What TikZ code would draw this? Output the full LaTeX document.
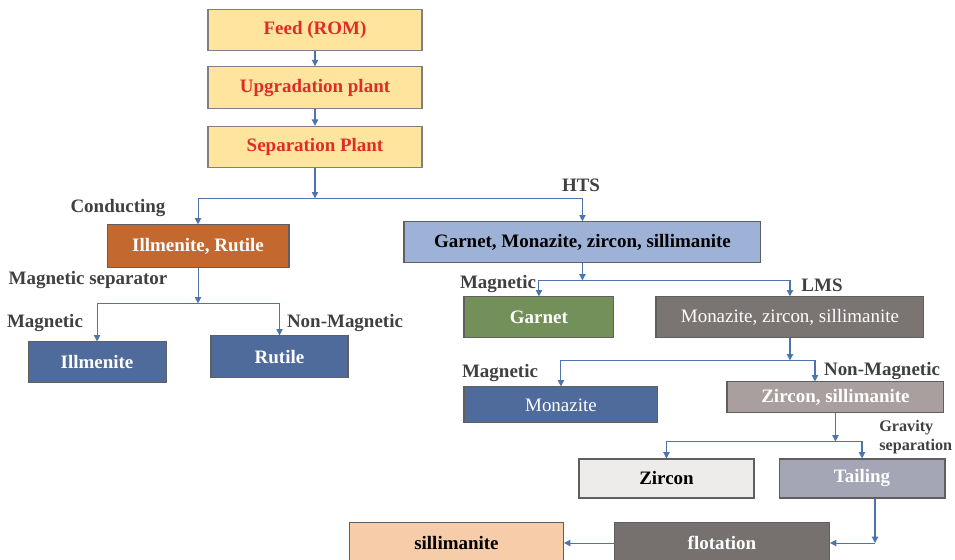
\documentclass[tikz,border=0pt]{standalone}
\usepackage{fontspec}
\setmainfont{Liberation Serif}
\usepackage{tikz}
\usetikzlibrary{arrows.meta,positioning}

\definecolor{feedfill}{HTML}{FFE49E}
\definecolor{feedred}{HTML}{E02B27}
\definecolor{edgegray}{HTML}{5F5F5F}
\definecolor{rustfill}{HTML}{C3692F}
\definecolor{skyfill}{HTML}{9DB2D6}
\definecolor{navyfill}{HTML}{4F6B9B}
\definecolor{olivefill}{HTML}{74905A}
\definecolor{taupefill}{HTML}{7A7472}
\definecolor{mauvefill}{HTML}{A99F9E}
\definecolor{palefill}{HTML}{EEEBEB}
\definecolor{slatefill}{HTML}{A4A5B5}
\definecolor{flotfill}{HTML}{76716F}
\definecolor{peachfill}{HTML}{F7CDA9}
\definecolor{flowblue}{HTML}{4E74AE}
\definecolor{lblgray}{HTML}{404040}

\newcommand{\chartfont}{\fontsize{10.8}{13}\selectfont}
\newcommand{\smallchartfont}{\fontsize{9.2}{10.8}\selectfont}

\begin{document}
\begin{tikzpicture}[
    x=0.02cm, y=-0.02cm,
    box/.style={
      rectangle, draw=edgegray, line width=0.6pt,
      inner sep=0pt, align=center, font=\chartfont\bfseries,
      text=white,
    },
    feedbox/.style={box, fill=feedfill, text=feedred, draw=gray,
      minimum width=4.28cm, minimum height=0.83cm},
    rustbox/.style={box, fill=rustfill},
    skybox/.style={box, fill=skyfill, text=black},
    navybox/.style={box, fill=navyfill},
    olivebox/.style={box, fill=olivefill},
    taupebox/.style={box, fill=taupefill, font=\chartfont},
    mauvebox/.style={box, fill=mauvefill},
    palebox/.style={box, fill=palefill, text=black},
    slatebox/.style={box, fill=slatefill},
    flotbox/.style={box, fill=flotfill},
    peachbox/.style={box, fill=peachfill, text=black},
    lbl/.style={font=\chartfont\bfseries, text=lblgray, inner sep=0pt},
    arr/.style={-{Triangle[length=3.6pt,width=3.6pt]}, flowblue, line width=0.6pt},
  ]
  \useasboundingbox (0,0) rectangle (955,560);

  % Main line
  \node[feedbox] (feed) at (315,30) {Feed (ROM)};
  \node[feedbox, below=0.30cm of feed] (upg) {Upgradation plant};
  \node[feedbox, below=0.34cm of upg] (sep) {Separation Plant};

  % First split
  \node[rustbox, minimum width=3.64cm, minimum height=0.86cm,
    below=1.12cm of sep, xshift=-2.34cm] (illrut) {Illmenite, Rutile};
  \node[skybox, minimum width=7.14cm, minimum height=0.82cm,
    below=1.06cm of sep, xshift=5.35cm] (gms) {Garnet, Monazite, zircon, sillimanite};

  % Left branch
  \node[navybox, minimum width=2.76cm, minimum height=0.82cm,
    below=1.46cm of illrut, xshift=-2.02cm] (ilm) {Illmenite};
  \node[navybox, minimum width=2.74cm, minimum height=0.84cm,
    below=1.34cm of illrut, xshift=1.63cm] (rut) {Rutile};

  % Right branch
  \node[olivebox, minimum width=3.0cm, minimum height=0.82cm,
    below=0.66cm of gms, xshift=-0.87cm] (garnet) {Garnet};
  \node[taupebox, minimum width=5.36cm, minimum height=0.82cm,
    right=0.82cm of garnet] (mzs) {Monazite, zircon, sillimanite};
  \node[navybox, font=\chartfont, minimum width=3.88cm, minimum height=0.72cm,
    below=0.96cm of garnet, xshift=0.44cm] (mon) {Monazite};
  \node[mauvebox, minimum width=4.34cm, minimum height=0.62cm,
    below=0.86cm of mzs, xshift=0.91cm] (zs) {Zircon, sillimanite};
  \node[palebox, minimum width=3.5cm, minimum height=0.78cm,
    below=0.90cm of zs, xshift=-3.38cm] (zircon) {Zircon};
  \node[slatebox, minimum width=3.32cm, minimum height=0.78cm,
    right=0.48cm of zircon] (tail) {Tailing};
  \node[flotbox, minimum width=4.3cm, minimum height=0.84cm,
    below=0.46cm of zircon, xshift=1.11cm] (flot) {flotation};
  \node[peachbox, minimum width=4.28cm, minimum height=0.84cm,
    left=1.0cm of flot] (sill) {sillimanite};

  % Labels
  \node[lbl] (conduct) at (118,208) {Conducting};
  \node[lbl] (hts) at (581,185) {HTS};
  \node[lbl] (magsep) at (88,280) {Magnetic separator};
  \node[lbl] (magA) at (45,323) {Magnetic};
  \node[lbl] (nonmagA) at (345,323) {Non-Magnetic};
  \node[lbl] (magB) at (498,284) {Magnetic};
  \node[lbl] (lms) at (822,285) {LMS};
  \node[lbl] (magC) at (500,373) {Magnetic};
  \node[lbl] (nonmagB) at (882,371) {Non-Magnetic};
  \node[lbl, font=\smallchartfont\bfseries, align=left, anchor=west]
    (gravity) at (879,437) {Gravity\\separation};

  % Junctions
  \coordinate[below=0.6cm of sep] (j1);
  \coordinate[below=0.7cm of illrut] (j2);
  \coordinate[below=0.34cm of gms] (j3);
  \coordinate[below=0.44cm of mzs] (j4);
  \coordinate[below=0.56cm of zs] (j5);
  \coordinate (j6) at ([xshift=0.26cm]tail.south |- flot.east);

  % Connectors
  \draw[arr] (feed) -- (upg);
  \draw[arr] (upg) -- (sep);
  \draw[arr] (sep) -- (j1);
  \draw[arr] (j1) -| (illrut);
  \draw[arr] (j1) -| (gms);

  \draw[arr] (illrut) -- (j2);
  \draw[arr] (j2) -| (ilm);
  \draw[arr] (j2) -| (rut);

  \draw[arr] (gms) -- (j3);
  \draw[arr] (j3) -| (garnet);
  \draw[arr] (j3) -| (mzs);

  \draw[arr] (mzs) -- (j4);
  \draw[arr] (j4) -| (mon);
  \draw[arr] (j4) -| ([xshift=-0.41cm]zs.north);

  \draw[arr] (zs) -- (j5);
  \draw[arr] (j5) -| (zircon);
  \draw[arr] (j5) -| (tail);

  \draw[arr] ([xshift=0.26cm]tail.south) -- (j6);
  \draw[arr] (j6) -- (flot);
  \draw[arr] (flot) -- (sill);

\end{tikzpicture}
\end{document}
